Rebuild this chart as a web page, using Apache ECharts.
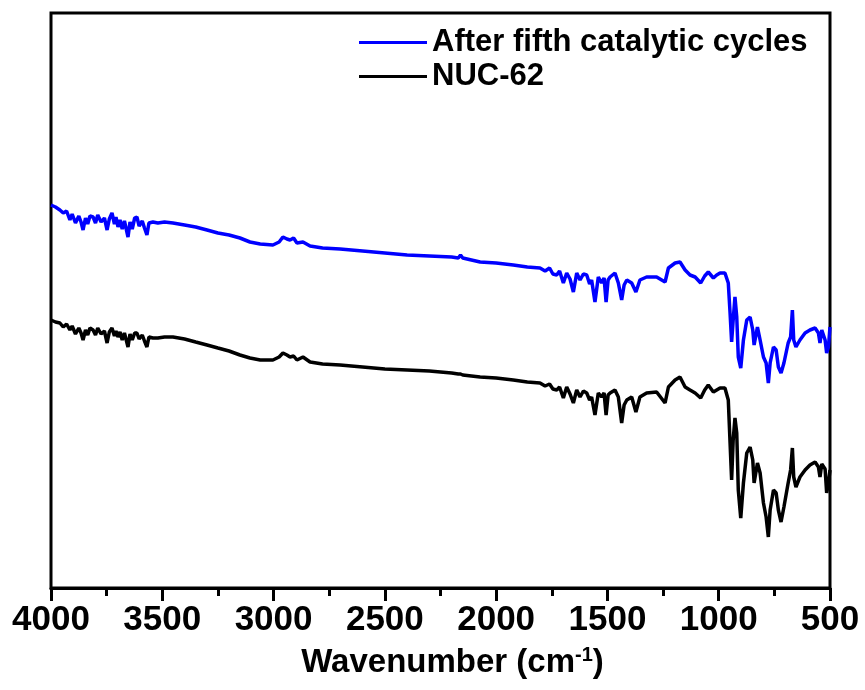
<!DOCTYPE html>
<html>
<head>
<meta charset="utf-8">
<title>FTIR spectra</title>
<script src="https://cdn.jsdelivr.net/npm/echarts@6/dist/echarts.min.js"></script>
<style>
  html, body { margin: 0; padding: 0; background: #fff; }
  #chart { width: 865px; height: 690px; }
</style>
</head>
<body>
<div id="chart"></div>
<script>
// Wavenumber grid shared by both spectra (cm-1)
const wavenumbers = [
  4000,3980,3960,3945,3930,3915,3905,3890,3875,3865,
  3856,3845,3835,3825,3811,3800,3790,3775,3760,3748,
  3738,3726,3715,3708,3699,3690,3680,3670,3654,3645,
  3635,3624,3614,3604,3590,3580,3569,3560,3542,3520,
  3490,3452,3400,3350,3299,3250,3200,3151,3106,3060,
  3003,2975,2958,2940,2926,2910,2895,2868,2836,2780,
  2701,2600,2500,2400,2300,2200,2170,2160,2150,2072,
  2000,1923,1860,1803,1780,1760,1745,1728,1715,1698,
  1683,1668,1653,1638,1623,1608,1593,1580,1571,1556,
  1541,1526,1515,1506,1497,1488,1466,1451,1436,1425,
  1413,1391,1372,1354,1324,1279,1241,1226,1196,1174,
  1151,1129,1106,1081,1063,1047,1024,1009,994,972,
  957,949,942,935,927,919,912,901,889,874,
  859,847,841,826,814,799,787,777,769,754,
  742,732,720,707,688,677,669,663,653,635,
  612,590,567,552,545,537,522,515,507,500
];

// Transmittance (a.u.) of the sample after the fifth catalytic cycle
const afterCycles = [
  76.6,76.2,75.6,75.0,75.4,73.6,74.8,73.0,74.4,73.2,
  71.6,74.0,72.8,74.4,74.2,73.0,74.6,73.2,74.0,71.6,
  73.8,75.0,72.8,74.2,72.2,73.6,71.8,73.4,70.2,73.2,
  71.8,74.0,74.2,72.4,73.4,72.0,70.6,73.0,73.2,73.0,
  73.2,73.0,72.6,72.2,71.6,71.0,70.6,70.0,69.2,68.8,
  68.6,69.2,70.2,69.8,69.6,70.0,69.0,69.2,68.4,68.0,
  67.8,67.4,67.0,66.6,66.4,66.2,66.0,66.6,66.0,65.2,
  65.0,64.6,64.2,64.0,63.4,64.0,62.8,62.6,63.4,61.0,
  63.0,61.8,59.2,63.0,61.6,62.8,62.6,60.8,61.6,57.2,
  62.2,61.0,62.0,57.2,61.6,62.2,63.0,61.0,57.6,60.6,
  61.6,61.0,59.2,61.6,62.2,62.2,61.2,64.0,65.0,65.2,
  63.6,62.6,62.2,61.0,62.4,63.2,62.0,62.6,63.0,63.0,
  61.0,55.0,49.2,53.6,58.2,54.2,46.2,44.0,49.6,53.6,
  54.2,51.6,48.6,52.2,49.6,46.2,45.0,41.0,45.0,48.2,
  47.6,44.2,43.0,45.0,49.0,50.2,55.6,49.6,48.2,49.6,
  51.0,51.6,52.0,51.0,49.0,51.6,49.6,47.0,48.2,52.2
];

// Transmittance (a.u.) of the as-synthesized NUC-62
const nuc62 = [
  53.6,53.2,53.0,52.2,52.8,51.6,52.4,50.8,52.0,51.0,
  49.6,51.6,50.6,52.0,51.6,50.6,52.0,50.8,51.4,49.0,
  51.2,52.0,50.4,51.4,50.2,51.2,49.6,51.0,48.2,50.8,
  49.6,51.0,51.0,49.8,50.6,49.4,48.2,50.2,50.0,50.0,
  50.2,50.2,49.8,49.2,48.6,48.0,47.4,46.6,46.0,45.6,
  45.6,46.2,47.0,46.6,46.2,46.4,45.6,46.2,45.2,44.8,
  44.6,44.2,43.8,43.6,43.4,43.0,42.8,42.8,42.6,42.2,
  42.0,41.6,41.2,41.0,40.4,40.8,39.8,39.6,40.2,38.0,
  40.2,38.8,37.0,39.6,38.2,39.4,39.0,37.6,38.2,34.6,
  39.0,38.2,39.0,34.6,38.6,39.0,39.6,38.2,33.0,36.6,
  37.6,38.2,35.2,38.2,39.0,39.2,37.0,40.2,41.6,42.2,
  40.2,39.6,39.0,38.0,39.6,40.6,39.2,39.6,40.0,40.0,
  37.6,29.0,21.6,29.6,34.0,31.0,19.6,14.0,21.0,27.0,
  28.2,25.6,21.0,25.0,23.0,17.0,14.2,10.2,15.6,19.6,
  19.0,15.6,13.2,16.2,21.0,23.6,28.0,22.2,20.2,22.2,
  23.6,24.6,25.2,24.2,22.2,24.8,23.8,19.0,21.0,23.6
];

const seriesNames = ['After fifth catalytic cycles', 'NUC-62'];
const seriesColors = ['#0000ff', '#000000'];

const pairs = (ys) => wavenumbers.map((x, i) => [x, ys[i]]);

const chart = echarts.init(document.getElementById('chart'), null, { renderer: 'canvas' });
const FONT = '"Liberation Sans", Arial, sans-serif';

chart.setOption({
  animation: false,
  backgroundColor: '#ffffff',
  grid: {
    left: 51, right: 35, top: 13, bottom: 102,
    show: true, borderColor: '#000', borderWidth: 3, backgroundColor: 'transparent'
  },
  legend: {
    orient: 'vertical',
    left: 359, top: 27,
    padding: 0,
    itemGap: 3,
    itemWidth: 68, itemHeight: 3,
    itemStyle: { borderWidth: 0 },
    icon: 'rect',
    textStyle: { fontFamily: FONT, fontWeight: 'bold', fontSize: 31, color: '#000', lineHeight: 31 },
    data: seriesNames
  },
  xAxis: {
    type: 'value',
    min: 500, max: 4000, interval: 500,
    inverse: true,
    splitLine: { show: false },
    axisLine: { lineStyle: { color: '#000', width: 3 } },
    axisTick: { show: true, length: 13, lineStyle: { color: '#000', width: 3 } },
    minorTick: { show: true, splitNumber: 2, length: 8, lineStyle: { color: '#000', width: 3 } },
    minorSplitLine: { show: false },
    axisLabel: {
      fontFamily: FONT, fontWeight: 'bold', fontSize: 35, color: '#000', margin: 15,
      formatter: (v) => String(v)
    },
    name: '{a|Wavenumber (cm}{s|-1}{a|)}',
    nameLocation: 'middle',
    nameGap: 57,
    nameTextStyle: {
      padding: [0, 0, 0, 24],
      rich: {
        a: { fontFamily: FONT, fontWeight: 'bold', fontSize: 33, color: '#000' },
        s: { fontFamily: FONT, fontWeight: 'bold', fontSize: 20, color: '#000', padding: [0, 0, 16, 0] }
      }
    }
  },
  yAxis: {
    type: 'value',
    min: 0, max: 115,
    show: false
  },
  series: [0, 1].map(k => ({
    name: seriesNames[k],
    type: 'line',
    data: pairs(k === 0 ? afterCycles : nuc62),
    showSymbol: false,
    symbol: 'none',
    lineStyle: { color: seriesColors[k], width: 3.5 },
    itemStyle: { color: seriesColors[k] },
    z: k === 0 ? 3 : 2
  }))
});
</script>
</body>
</html>
